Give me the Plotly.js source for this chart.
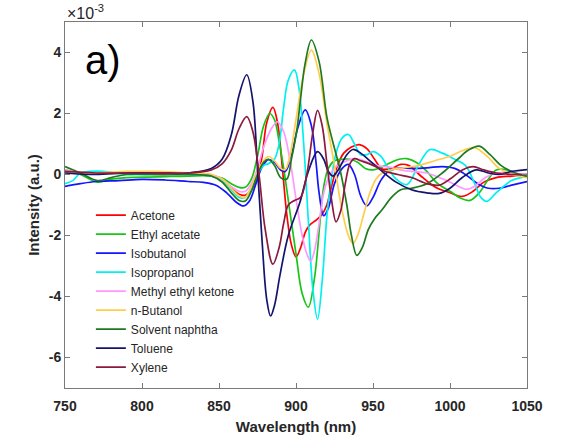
<!DOCTYPE html>
<html>
<head>
<meta charset="utf-8">
<script src="https://cdn.plot.ly/plotly-3.0.1.min.js"></script>
<style>html,body{margin:0;padding:0;background:#fff;}#chart{width:563px;height:438px;}</style>
</head>
<body>
<div id="chart"></div>
<script>
// Values in units of 1e-3 (a.u.)
const seriesNames = ["Acetone","Ethyl acetate","Isobutanol","Isopropanol","Methyl ethyl ketone","n-Butanol","Solvent naphtha","Toluene","Xylene"];

const wlAcetone = [750,760,770,790,810,830,845,852,858,863,867,871,875,878,881,885,888,891,894,897,900,903,906,909,913,917,920,923,927,931,936,941,946,951,956,962,968,973,980,990,1000,1008,1015,1022,1030,1040,1050];
const acetone = [0.1,0.05,0.05,0.05,0.0,0.0,-0.05,-0.2,-0.45,-0.65,-0.68,-0.5,-0.1,0.6,1.7,2.2,1.7,0.3,-1.3,-2.3,-2.7,-2.4,-1.9,-1.65,-1.5,-1.3,-1.0,-0.4,0.3,0.7,0.9,0.98,0.85,0.5,0.18,0.2,0.33,0.3,0.0,-0.4,-0.6,-0.72,-0.55,-0.25,-0.1,-0.05,0.0];

const wlEthylAcetate = [750,760,771,780,790,810,830,845,852,858,863,867,871,875,879,883,886,889,892,896,900,904,908,912,915.5,918,921,925,930,935,940,945,950,956,962,967,972,978,985,992,1000,1007,1013,1019,1025,1030,1037,1043,1050];
const ethylAcetate = [0.15,0.0,-0.25,-0.15,-0.1,-0.08,-0.05,-0.05,-0.12,-0.3,-0.42,-0.42,-0.15,0.6,1.6,2.0,1.8,1.1,0.2,-1.2,-2.6,-3.9,-4.35,-3.4,-1.6,-0.4,0.2,0.45,0.5,0.5,0.4,0.2,0.15,0.25,0.4,0.5,0.52,0.4,0.1,-0.3,-0.55,-0.78,-0.85,-0.6,-0.15,0.15,0.15,0.0,-0.06];

const wlIsobutanol = [750,760,770,785,800,815,830,840,848,855,861,866,870,874,878,882,886,890,893,897,901,906,910,913,915,918,921,925,930,934,938,942,946,950,955,960,966,975,985,995,1003,1010,1018,1025,1032,1040,1050];
const isobutanol = [-0.39,-0.3,-0.23,-0.2,-0.16,-0.18,-0.23,-0.26,-0.35,-0.6,-0.9,-1.03,-0.85,-0.3,0.25,0.49,0.4,0.15,0.1,0.6,1.5,2.12,1.6,0.4,-0.6,-1.35,-1.1,-0.3,0.2,0.33,0.0,-0.7,-1.03,-0.75,-0.2,0.1,0.2,0.2,0.22,0.26,0.2,0.0,-0.3,-0.45,-0.45,-0.35,-0.23];

const wlIsopropanol = [750,755,760,766,775,790,810,830,845,852,858,863,867,871,875,879,882,886,889,892,895,899,902,905,908,911,914,917,920,922,926,930,934,938,942,946,950,955,960,965,972,980,987,995,1003,1010,1016,1020,1024,1030,1040,1050];
const isopropanol = [-0.3,-0.2,0.05,0.1,0.1,0.0,0.0,0.0,-0.05,-0.2,-0.5,-0.75,-0.75,-0.45,0.0,0.3,0.35,0.5,1.0,2.2,3.1,3.43,2.8,1.0,-1.5,-3.8,-4.74,-3.5,-1.4,-0.5,0.7,1.2,1.31,1.0,0.65,0.65,0.75,0.6,0.2,-0.15,-0.33,0.35,0.82,0.7,0.5,0.3,-0.3,-0.75,-0.88,-0.6,-0.2,-0.06];

const wlMEK = [750,760,770,790,810,830,845,852,858,863,867,871,875,879,884,888,892,896,900,904,907,909.5,912,915,918,922,927,933,938,944,952,960,968,975,985,993,1000,1006,1011,1017,1023,1030,1040,1050];
const mek = [0.15,0.05,0.05,0.05,0.05,0.05,0.0,-0.15,-0.4,-0.55,-0.55,-0.3,0.2,0.9,1.5,1.73,1.4,0.5,-0.8,-2.0,-2.6,-2.84,-2.5,-1.6,-0.6,0.0,0.3,0.45,0.52,0.45,0.3,0.25,0.15,0.1,0.05,-0.1,-0.25,-0.4,-0.49,-0.35,-0.1,0.05,0.05,0.0];

const wlButanol = [750,770,790,810,830,845,852,858,863,867,871,875,879,882,886,890,893,896,900,905,910,915,920,925,930,934,937,940,944,948,952,956,962,970,980,990,1000,1008,1016,1024,1032,1040,1050];
const nButanol = [0.1,0.05,0.1,0.1,0.05,0.0,-0.15,-0.45,-0.7,-0.75,-0.4,0.1,0.45,0.59,0.45,0.2,0.16,0.6,1.8,3.3,4.08,3.3,1.7,0.3,-1.2,-2.0,-2.26,-2.0,-1.3,-0.6,-0.15,0.05,0.15,0.22,0.3,0.45,0.6,0.78,0.88,0.6,0.2,0.0,-0.1];

const wlNaphtha = [750,760,771,780,790,810,830,845,852,858,863,867,871,875,879,882,886,890,894,897,900.6,903,906,910,915,920,924,928.6,933,936,939.5,943,947,951,956,962,968,975,985,995,1005,1012,1019,1026,1033,1040,1050];
const solventNaphtha = [0.26,0.05,-0.2,-0.1,0.0,0.0,0.0,-0.05,-0.25,-0.6,-0.85,-0.87,-0.55,0.0,0.4,0.5,0.3,-0.1,-0.15,0.5,1.47,2.5,3.66,4.41,3.7,1.9,1.05,0.16,-1.0,-2.0,-2.65,-2.4,-1.8,-1.45,-1.15,-0.75,-0.5,-0.45,-0.3,0.05,0.5,0.8,0.93,0.65,0.3,0.1,-0.06];

const wlToluene = [750,770,790,810,830,845,852,858,863,868,872,875,878,881,883.5,886,889.6,895,902.6,908,914,918,921,924,928,933,937,942,948,956,965,975,985,993,1000,1008,1017,1025,1032,1040,1050];
const toluene = [0.05,0.0,0.05,0.05,0.05,0.2,0.5,1.3,2.6,3.27,2.4,0.2,-2.2,-4.1,-4.64,-4.3,-3.3,-2.0,-0.9,0.1,0.75,0.5,0.1,-0.05,0.2,0.65,0.82,0.7,0.45,0.1,-0.25,-0.5,-0.6,-0.62,-0.45,-0.1,0.15,0.05,0.0,0.1,0.16];

const wlXylene = [750,770,790,810,830,845,852,858,863,868,872,876,880,885,889,892,895,899,903,907,911,914,917,920,923,926,929,932,935,938,942,950,958,966,975,985,993,1000,1008,1015,1022,1030,1040,1050];
const xylene = [0.1,0.05,0.05,0.05,0.05,0.15,0.35,0.8,1.5,1.9,1.4,0.0,-1.8,-2.94,-2.4,-1.6,-1.0,-0.85,-0.75,0.0,1.4,2.1,1.6,0.4,-0.8,-1.55,-1.2,-0.3,0.35,0.52,0.45,0.3,0.1,0.0,-0.1,-0.3,-0.35,-0.15,0.15,0.26,0.15,0.05,0.0,0.0];

const xTickVals = [750,800,850,900,950,1000,1050];
const yTickVals = [-6,-4,-2,0,2,4];

const colors = ["#ff0000","#19c419","#1414ff","#00f0f0","#ff99ff","#ffcc4d","#1f7a1f","#14146e","#8c1a3c"];
const xs = [wlAcetone,wlEthylAcetate,wlIsobutanol,wlIsopropanol,wlMEK,wlButanol,wlNaphtha,wlToluene,wlXylene];
const ys = [acetone,ethylAcetate,isobutanol,isopropanol,mek,nButanol,solventNaphtha,toluene,xylene];

const traces = seriesNames.map((n,i)=>({
  type:'scatter', mode:'lines', name:n, x:xs[i], y:ys[i],
  line:{color:colors[i], width:1.7, shape:'spline', smoothing:1}
}));

const FONT = 'Liberation Sans, Arial, sans-serif';
const axisCommon = {
  showline:true, linecolor:'#7a7a7a', linewidth:1, mirror:'ticks',
  ticks:'inside', ticklen:5, tickcolor:'#7a7a7a', showgrid:false, zeroline:false,
  tickfont:{family:FONT, size:14, color:'#262626', weight:'bold'}
};

const layout = {
  width:563, height:438,
  margin:{l:65, r:36, t:22, b:50},
  paper_bgcolor:'#fff', plot_bgcolor:'#fff',
  showlegend:true,
  legend:{x:0.056, y:0.512, xanchor:'left', yanchor:'top', bgcolor:'rgba(0,0,0,0)',
          font:{family:FONT, size:12, color:'#262626'},
          tracegroupgap:0, itemwidth:30},
  xaxis:Object.assign({}, axisCommon, {range:[750,1050], tickvals:xTickVals, ticklabelstandoff:5,
    title:{text:'Wavelength (nm)', standoff:8, font:{family:FONT, size:15, color:'#262626', weight:'bold'}}}),
  yaxis:Object.assign({}, axisCommon, {range:[-7,5], tickvals:yTickVals, ticktext:yTickVals.map(String),
    title:{text:'Intensity (a.u.)', standoff:5, font:{family:FONT, size:15, color:'#262626', weight:'bold'}}}),
  annotations:[
    {xref:'paper', yref:'paper', x:0, y:1, xanchor:'left', yanchor:'bottom', yshift:-2, showarrow:false,
     text:'×10<sup>-3</sup>', font:{family:FONT, size:16, color:'#262626'}},
    {xref:'paper', yref:'y', x:0.038, y:3.75, xanchor:'left', yanchor:'middle', showarrow:false,
     text:'a)', font:{family:FONT, size:40, color:'#000'}}
  ]
};

Plotly.newPlot('chart', traces, layout, {displayModeBar:false, staticPlot:true});
</script>
</body>
</html>
